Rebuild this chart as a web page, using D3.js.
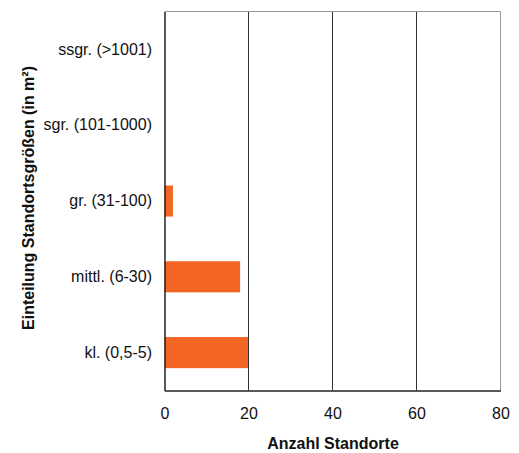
<!DOCTYPE html>
<html><head><meta charset="utf-8">
<script src="https://cdnjs.cloudflare.com/ajax/libs/d3/7.8.5/d3.min.js"></script>
<style>body{margin:0;background:#fff}svg{display:block}text{font-family:"Liberation Sans",Arial,sans-serif}</style>
</head><body>
<svg id="c" width="519" height="453"></svg>
<script>
const categories = ["ssgr. (>1001)", "sgr. (101-1000)", "gr. (31-100)", "mittl. (6-30)", "kl. (0,5-5)"];
const values = [0, 0, 2, 18, 20];
const xTicks = [0, 20, 40, 60, 80];
const xTitle = "Anzahl Standorte";
const yTitle = "Einteilung Standortsgrößen (in m²)";

const svg = d3.select("#c");
const L = 164.5, R = 500.5, T = 11.5, B = 390.5;
const x = d3.scaleLinear().domain([0, 80]).range([L, R]);
const y = d3.scaleBand().domain(categories).range([T, B]).paddingInner(0.59).paddingOuter(0.295);

// bars
svg.append("g").selectAll("rect").data(values).join("rect")
  .attr("x", x(0)).attr("y", (d, i) => y(categories[i]))
  .attr("width", d => x(d) - x(0)).attr("height", y.bandwidth())
  .attr("fill", "#f26522");

// gridlines
svg.append("g").selectAll("line").data(xTicks.filter(t => t > 0 && t < 80)).join("line")
  .attr("x1", d => x(d)).attr("x2", d => x(d)).attr("y1", T).attr("y2", B)
  .attr("stroke", "#333").attr("stroke-width", 1);

// border top/right
svg.append("line").attr("x1", L).attr("x2", R).attr("y1", T).attr("y2", T).attr("stroke", "#999");
svg.append("line").attr("x1", R).attr("x2", R).attr("y1", T).attr("y2", B).attr("stroke", "#999");

// axes
const xa = svg.append("g").attr("transform", `translate(0,${B})`)
  .call(d3.axisBottom(x).tickValues(xTicks).tickSize(0).tickPadding(17));
xa.select(".domain").attr("stroke", "#222").attr("stroke-width", 1.5);
xa.selectAll("text").attr("font-size", 16).attr("fill", "#111").attr("font-family", "Liberation Sans, Arial, sans-serif");

const ya = svg.append("g").attr("transform", `translate(${L},0)`)
  .call(d3.axisLeft(y).tickSize(0).tickPadding(12.5));
ya.select(".domain").attr("stroke", "#222").attr("stroke-width", 1.5);
ya.selectAll("text").attr("font-size", 16).attr("fill", "#111").attr("font-family", "Liberation Sans, Arial, sans-serif");

svg.append("text").attr("x", 333).attr("y", 449).attr("text-anchor", "middle")
  .attr("font-size", 16).attr("font-weight", "bold").attr("fill", "#111").text(xTitle);
svg.append("text").attr("transform", `translate(34,198) rotate(-90)`).attr("text-anchor", "middle")
  .attr("font-size", 16).attr("font-weight", "bold").attr("fill", "#111").text(yTitle);
</script>
</body></html>
